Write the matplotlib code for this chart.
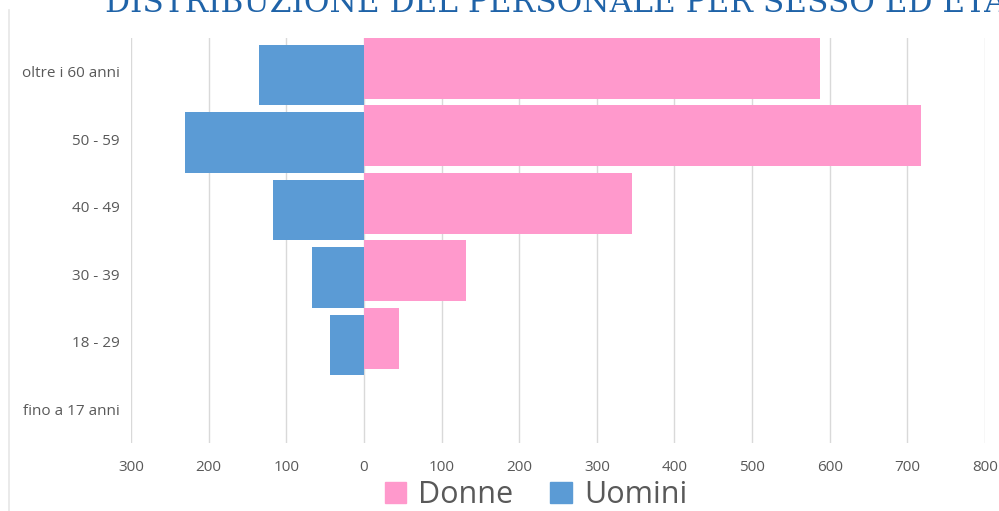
import matplotlib
matplotlib.use("Agg")
import matplotlib.pyplot as plt
from matplotlib.lines import Line2D
from matplotlib.patches import Patch

# age classes, top to bottom
categories = ["oltre i 60 anni", "50 - 59", "40 - 49", "30 - 39", "18 - 29", "fino a 17 anni"]
donne = [587, 718, 345, 131, 45, 0]
uomini = [135, 230, 117, 67, 44, 0]
xticks = [-300, -200, -100, 0, 100, 200, 300, 400, 500, 600, 700, 800]
xticklabels = ["300", "200", "100", "0", "100", "200", "300", "400", "500", "600", "700", "800"]

pink = "#FF99CC"
blue = "#5B9BD5"
grey = "#595959"

plt.rcParams["font.family"] = ["Open Sans", "DejaVu Sans"]

fig = plt.figure(figsize=(9.99, 5.11), dpi=100)
ax = fig.add_axes([131 / 999, 1 - 443 / 511, (985 - 131) / 999, (443 - 38) / 511])

ypos = list(range(len(categories)))
h = 0.9
ax.barh([y - 0.05 for y in ypos], donne, height=h, color=pink, label="Donne", zorder=3)
ax.barh([y + 0.05 for y in ypos], [-v for v in uomini], height=h, color=blue, label="Uomini", zorder=2)

ax.set_xlim(-300, 800)
ax.set_ylim(len(categories) - 0.5, -0.5)
ax.set_xticks(xticks)
ax.set_xticklabels(xticklabels, color=grey, fontsize=11)
ax.set_yticks(ypos)
ax.set_yticklabels(categories, color=grey, fontsize=11)
ax.tick_params(axis="both", length=0)
ax.tick_params(axis="x", pad=12)
ax.tick_params(axis="y", pad=8)
ax.grid(axis="x", color="#d9d9d9", linewidth=1, zorder=0)
for s in ax.spines.values():
    s.set_visible(False)

handles = [Patch(color=pink), Patch(color=blue)]
fig.legend(handles, ["Donne", "Uomini"], loc="center", bbox_to_anchor=(536 / 999, 1 - 495 / 511),
           ncol=2, frameon=False, fontsize=22, labelcolor=grey, handlelength=0.7, handleheight=0.7,
           handletextpad=0.4, columnspacing=1.2, borderaxespad=0)

# faint frame edge on the left
fig.add_artist(Line2D([9 / 999, 9 / 999], [0, 1 - 10 / 511], color="#e6e6e6", linewidth=1.2))

# title, cut off by the top of the picture
fig.text(105 / 999, 1 - 12 / 511, "DISTRIBUZIONE DEL PERSONALE PER SESSO ED ETÀ",
         family="DejaVu Serif", fontsize=22.5, color="#1F63A8", ha="left", va="baseline")

fig.savefig("out.png", dpi=100)
